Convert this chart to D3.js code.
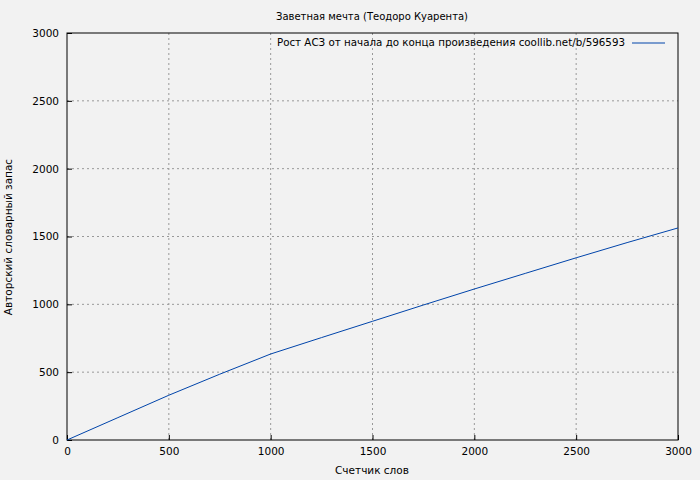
<!DOCTYPE html>
<html><head><meta charset="utf-8"><script src="https://cdn.jsdelivr.net/npm/d3@7"></script>
<style>body{margin:0;background:#f2f2f2}text{font-family:"DejaVu Sans",sans-serif;font-size:10.5px;fill:#000}</style></head>
<body><svg width="700" height="480"></svg>
<script>
const wordCounts=[0,250,500,750,1000,1250,1500,1750,2000,2250,2500,2750,3000];
const vocab=[0,165,330,485,634,755,875,995,1113,1228,1343,1455,1563];
const xTicks=[0,500,1000,1500,2000,2500,3000];
const yTicks=[0,500,1000,1500,2000,2500,3000];
const title="Заветная мечта (Теодоро Куарента)";
const legend="Рост АСЗ от начала до конца произведения coollib.net/b/596593";
const svg=d3.select("svg");
svg.append("rect").attr("width",700).attr("height",480).attr("fill","#f2f2f2");
const L=67,R=678,T=33,B=440;
const x=d3.scaleLinear().domain([0,3000]).range([L,R]);
const y=d3.scaleLinear().domain([0,3000]).range([B,T]);
const g=svg.append("g");
xTicks.forEach(t=>{if(t>0&&t<3000)g.append("line").attr("x1",x(t)).attr("x2",x(t)).attr("y1",T).attr("y2",B).attr("stroke","#999").attr("stroke-dasharray","2,3");});
yTicks.forEach(t=>{if(t>0&&t<3000)g.append("line").attr("x1",L).attr("x2",R).attr("y1",y(t)).attr("y2",y(t)).attr("stroke","#999").attr("stroke-dasharray","2,3");});
const fmt=d3.format("d");
svg.append("g").attr("transform",`translate(0,${B})`).call(d3.axisBottom(x).tickValues(xTicks).tickFormat(fmt).tickSize(-5).tickPadding(8)).call(a=>{a.select(".domain").remove();a.selectAll("text").style("font-size","10.5px").attr("font-family","DejaVu Sans");});
svg.append("g").attr("transform",`translate(${L},0)`).call(d3.axisLeft(y).tickValues(yTicks).tickFormat(fmt).tickSize(-5).tickPadding(8)).call(a=>{a.select(".domain").remove();a.selectAll("text").style("font-size","10.5px").attr("font-family","DejaVu Sans");});
svg.append("rect").attr("x",L).attr("y",T).attr("width",R-L).attr("height",B-T).attr("fill","none").attr("stroke","#000");
const data=wordCounts.map((w,i)=>[w,vocab[i]]);
svg.append("path").datum(data).attr("fill","none").attr("stroke","#0044aa").attr("stroke-width",1).attr("d",d3.line().x(d=>x(d[0])).y(d=>y(d[1])));
svg.append("text").attr("x",372).attr("y",20).attr("text-anchor","middle").style("font-size","10px").text(title);
svg.append("text").attr("x",625).attr("y",46).attr("text-anchor","end").style("font-size","10.3px").text(legend);
svg.append("line").attr("x1",632).attr("x2",665).attr("y1",43).attr("y2",43).attr("stroke","#0044aa");
svg.append("text").attr("x",372).attr("y",474).attr("text-anchor","middle").text("Счетчик слов");
svg.append("text").attr("transform","translate(12,237) rotate(-90)").attr("text-anchor","middle").text("Авторский словарный запас");
</script></body></html>
